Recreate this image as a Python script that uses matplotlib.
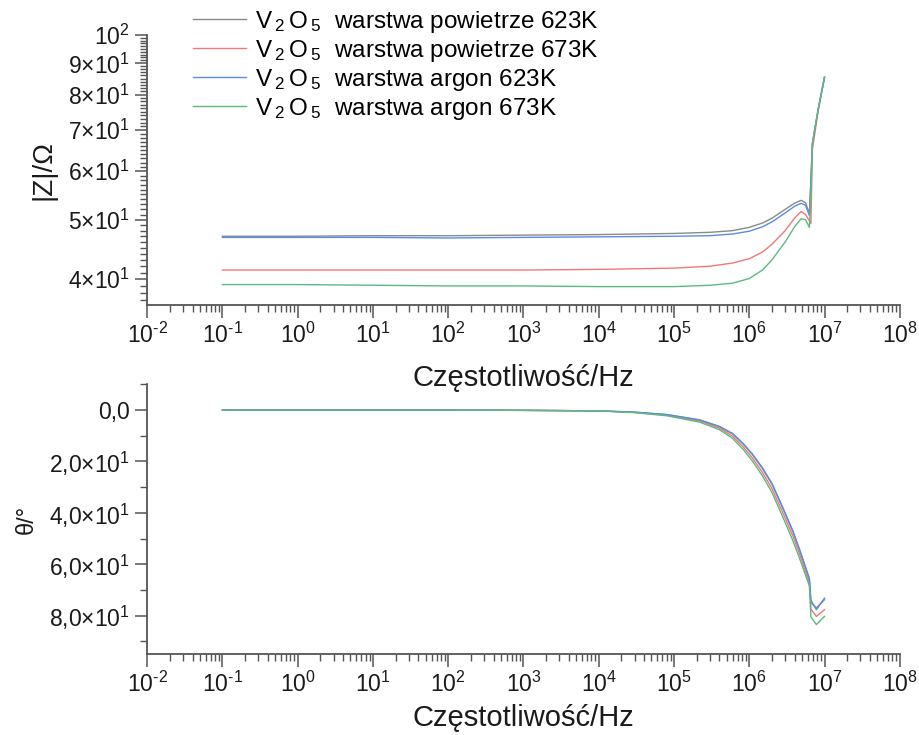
import matplotlib
matplotlib.use("Agg")
import matplotlib.pyplot as plt
from matplotlib.ticker import LogLocator, FixedLocator, NullFormatter

plt.rcParams['font.family'] = ['Liberation Sans', 'DejaVu Sans']
plt.rcParams['mathtext.fontset'] = 'custom'
plt.rcParams['mathtext.rm'] = 'Liberation Sans'
plt.rcParams['mathtext.it'] = 'Liberation Sans'
plt.rcParams['mathtext.bf'] = 'Liberation Sans:bold'

# dane
labels = [r"V$\,_2\,$O$\,_5$  warstwa powietrze 623K",
          r"V$\,_2\,$O$\,_5$  warstwa powietrze 673K",
          r"V$\,_2\,$O$\,_5$  warstwa argon 623K",
          r"V$\,_2\,$O$\,_5$  warstwa argon 673K"]
colors = ['#8a8a8a', '#f27777', '#5a8de0', '#5cba7f']

freq_z = [0.1, 1, 10, 100, 1e3, 1e4, 1e5, 3e5, 6e5, 1e6, 1.5e6, 2e6, 3e6,
          4e6, 4.9e6, 5.6e6, 6.3e6, 6.6e6, 6.9e6, 8.2e6, 1e7]
z_pow_623 = [47.0, 47.0, 47.1, 47.1, 47.2, 47.3, 47.5, 47.7, 48.0, 48.6, 49.4,
             50.3, 52.0, 53.2, 53.8, 53.3, 51.2, 58.0, 66.5, 75.5, 85.5]
z_pow_673 = [41.4, 41.4, 41.4, 41.4, 41.4, 41.5, 41.7, 42.0, 42.5, 43.2, 44.3,
             45.6, 48.0, 50.3, 51.6, 51.0, 49.8, 49.3, 65.0, 75.0, 85.3]
z_ar_623 = [46.8, 46.8, 46.8, 46.7, 46.8, 46.9, 47.0, 47.1, 47.4, 47.9, 48.7,
            49.6, 51.3, 52.6, 53.2, 52.8, 50.8, 58.0, 66.5, 75.5, 85.3]
z_ar_673 = [39.2, 39.2, 39.1, 39.0, 39.0, 38.9, 38.9, 39.1, 39.4, 40.1, 41.4,
            43.0, 46.0, 48.7, 50.2, 50.0, 48.6, 55.0, 66.5, 75.5, 85.5]

freq_p = [0.1, 1, 10, 100, 1e3, 1e4, 3e4, 8e4, 2.2e5, 4e5, 6e5, 8.3e5, 1.1e6,
          1.5e6, 2e6, 2.8e6, 3.8e6, 4.7e6, 6.3e6, 6.6e6, 7.8e6, 1e7]
p_pow_623 = [0, 0, 0, 0, 0.1, 0.3, 0.8, 1.8, 3.9, 6.5, 9.3, 13.2, 17.3, 22.8,
             28.8, 38.3, 47.3, 54.8, 66.0, 75.0, 77.0, 73.8]
p_pow_673 = [0, 0, 0, 0, 0.1, 0.3, 0.9, 2.0, 4.3, 7.0, 10.2, 14.3, 18.6, 24.3,
             30.5, 40.0, 49.0, 56.3, 67.3, 77.5, 80.3, 77.7]
p_ar_623 = [0, 0, 0, 0, 0.1, 0.3, 0.8, 1.7, 3.8, 6.3, 9.1, 13.0, 17.1, 22.5,
            28.5, 38.0, 47.0, 54.5, 65.5, 74.0, 77.7, 73.2]
p_ar_673 = [0, 0, 0, 0, 0.1, 0.3, 1.0, 2.2, 4.7, 7.6, 11.0, 15.3, 19.8, 25.6,
            32.0, 41.7, 50.8, 58.0, 68.5, 80.5, 83.5, 80.3]

z_series = [z_pow_623, z_pow_673, z_ar_623, z_ar_673]
p_series = [p_pow_623, p_pow_673, p_ar_623, p_ar_673]

x_ticks = [10.0 ** k for k in range(-2, 9)]
x_ticklabels = ["10$^{%s}$" % str(k).replace('-', '\u2010') for k in range(-2, 9)]
z_ticks = [40, 50, 60, 70, 80, 90, 100]
z_ticklabels = ["4×10$^{1}$", "5×10$^{1}$", "6×10$^{1}$", "7×10$^{1}$",
                "8×10$^{1}$", "9×10$^{1}$", "10$^{2}$"]
p_ticks = [0, 20, 40, 60, 80]
p_ticklabels = ["0,0", "2,0×10$^{1}$", "4,0×10$^{1}$", "6,0×10$^{1}$",
                "8,0×10$^{1}$"]

spine_col = '#555555'
fig = plt.figure(figsize=(9.2, 7.35), dpi=100)
ax1 = fig.add_axes([0.16, 0.585, 0.818, 0.367])
ax2 = fig.add_axes([0.16, 0.110, 0.818, 0.367])
ax2.patch.set_visible(False)


def style_axis(ax, pad):
    ax.set_xscale('log')
    ax.set_xlim(1e-2, 1e8)
    ax.set_xticks(x_ticks)
    ax.set_xticklabels(x_ticklabels)
    ax.xaxis.set_minor_locator(LogLocator(base=10, subs=range(2, 10), numticks=20))
    ax.xaxis.set_minor_formatter(NullFormatter())
    for side in ['top', 'right']:
        ax.spines[side].set_visible(False)
    for side in ['left', 'bottom']:
        ax.spines[side].set_color(spine_col)
        ax.spines[side].set_linewidth(1.3)
    ax.tick_params(which='major', direction='out', length=9, width=1.1,
                   color=spine_col, labelsize=16.5, labelcolor='#1a1a1a')
    ax.tick_params(which='minor', direction='out', length=5, width=1.0,
                   color=spine_col)
    ax.set_xlabel("Częstotliwość/Hz", fontsize=21, color='#1a1a1a', labelpad=pad)


# |Z|
for ys, c, lab in zip(z_series, colors, labels):
    ax1.plot(freq_z, ys, color=c, lw=1.0, label=lab)
style_axis(ax1, 12)
ax1.set_yscale('log')
ax1.set_ylim(36.3, 100)
ax1.yaxis.set_major_locator(FixedLocator(z_ticks))
ax1.set_yticklabels(z_ticklabels)
ax1.yaxis.set_minor_locator(FixedLocator(list(range(37, 100))))
ax1.yaxis.set_minor_formatter(NullFormatter())
ax1.set_ylabel("|Z|/Ω", fontsize=20, color='#1a1a1a', labelpad=8)

# faza
for ys, c in zip(p_series, colors):
    ax2.plot(freq_p, ys, color=c, lw=1.0)
style_axis(ax2, 5)
ax2.set_ylim(95, -10)
ax2.set_yticks(p_ticks)
ax2.set_yticklabels(p_ticklabels)
ax2.yaxis.set_minor_locator(FixedLocator([-10, 10, 30, 50, 70, 90]))
ax2.set_ylabel("θ/°", fontsize=17, color='#1a1a1a', labelpad=8)

fig.legend(loc='upper left', bbox_to_anchor=(193 / 920, 1 - 9 / 735),
           frameon=False, fontsize=17.5, borderpad=0, borderaxespad=0,
           handlelength=2.2, handletextpad=0.35, labelspacing=0.12)

fig.savefig('out.png', dpi=100)
